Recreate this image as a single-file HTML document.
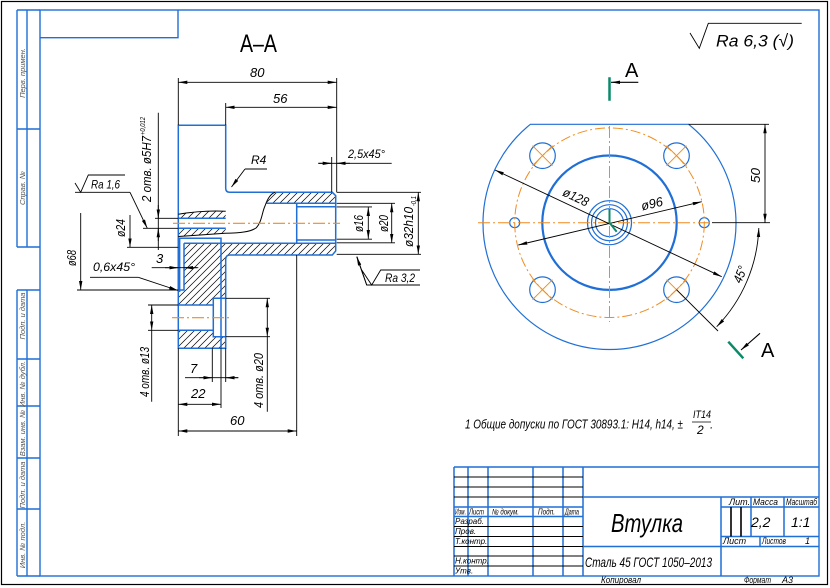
<!DOCTYPE html>
<html><head><meta charset="utf-8"><style>
html,body{margin:0;padding:0;background:#fff;}
svg{display:block;}
text{font-family:"Liberation Sans",sans-serif;font-style:italic;fill:#000;}
</style></head><body>
<svg width="830" height="588" viewBox="0 0 830 588" xmlns="http://www.w3.org/2000/svg">
<defs>
<marker id="ar" markerUnits="userSpaceOnUse" markerWidth="9" markerHeight="4" refX="9" refY="2" orient="auto-start-reverse" viewBox="0 0 9 4"><path d="M0,0.3 L9,2 L0,3.7z" fill="#000"/></marker>
<pattern id="h" patternUnits="userSpaceOnUse" width="7" height="7"><path d="M-1,8 L8,-1 M-1,1 L1,-1 M6,8 L8,6" stroke="#000" stroke-width="0.7"/></pattern>
</defs>
<rect width="830" height="588" fill="#fff"/>
<rect x="1.5" y="1.5" width="826" height="583" fill="none" stroke="#000" stroke-width="1.2"/>

<!-- frame and left strip -->
<g stroke="#1f6fd6" stroke-width="1.4" fill="none">
<rect x="40" y="10" width="779" height="566"/>
<path d="M17,10 V247 M27,10 V247 M17,10 H40 M17,129 H40 M17,247 H40"/>
<path d="M17,290 V576 M27,290 V576 M17,290 H40 M17,359 H40 M17,406 H40 M17,458 H40 M17,509 H40 M17,576 H40"/>
<path d="M40,37.7 H178 V10"/>
</g>
<g font-size="7.5" text-anchor="middle">
<text transform="translate(25,73) rotate(-90)" style="fill:#555">Перв. примен.</text>
<text transform="translate(25,188) rotate(-90)" style="fill:#555">Справ. №</text>
<text transform="translate(25,316) rotate(-90)" style="fill:#555">Подп. и дата</text>
<text transform="translate(25,384) rotate(-90)" style="fill:#555">Инв. № дубл.</text>
<text transform="translate(25,433) rotate(-90)" style="fill:#555">Взам. инв. №</text>
<text transform="translate(25,485) rotate(-90)" style="fill:#555">Подп. и дата</text>
<text transform="translate(25,545) rotate(-90)" style="fill:#555">Инв. № подл.</text>
</g>

<!-- SECTION A-A -->
<text x="240" y="52" font-size="25" style="font-style:normal" textLength="37" lengthAdjust="spacingAndGlyphs">А–А</text>

<g fill="url(#h)" stroke="none">
<path d="M274,192.3 L332.3,192.3 L335.7,195.7 L335.7,203.3 L266.5,203.3 C268,200 270,195 274,192.3Z"/>
<path d="M178.3,214.3 C192,212 210,210.5 225.7,211.3 L225.7,218.3 L178.3,218.3Z"/>
<path d="M178.3,228.3 L225.7,228.3 L225.7,233.3 C210,234 195,235.5 178.3,236.5Z"/>
<path d="M184,243.3 L335.7,243.3 L335.7,251 L332.3,255 L230,255 Q225.7,255 225.7,259.3 L225.7,348.3 L178.3,348.3 L178.3,290 L184,290Z"/>
</g>
<g fill="#fff"><rect x="178.3" y="305" width="35" height="25.3"/><rect x="213.3" y="298.3" width="12.4" height="38.4"/></g>

<g stroke="#1f6fd6" stroke-width="1.5" fill="none">
<path d="M178.3,125.3 H225.7 V188.3 Q225.7,192.3 229.7,192.3 H332.3 L335.7,195.7 V251 L332.3,255 H230 Q225.7,255 225.7,259.3 V348.3 H178.3 Z"/>
<path d="M178.3,218.3 H225.7 M178.3,228.3 H225.7"/>
<path d="M266.5,203.3 H335.7 M296.7,206.7 H335.7 M296.7,240 H335.7 M296.7,203.3 V243.3 M184,243.3 H335.7 M184,243.3 V290 H178.3 M178.3,238.3 H221 V348.3"/>
<path d="M178.3,305 H213.3 V298.3 H225.7 M178.3,330.3 H213.3 V336.7 H225.7 M213.3,298.3 V336.7"/>
</g>
<path d="M179,238 V292" stroke="#1f6fd6" stroke-width="2.8"/>

<!-- break lines -->
<g stroke="#000" stroke-width="1" fill="none">
<path d="M178.3,214.3 C192,212 210,210.5 225.7,211.3"/>
<path d="M178.3,236.5 C195,235.5 215,234 225,233.3 C240,233 250,232 256,228 C262,222 262,212 265,206 C267,200 270,194 275,192.3"/>
</g>

<!-- axes -->
<g stroke="#f08c1e" stroke-width="1.1" stroke-dasharray="12 3 2 3" fill="none">
<path d="M173,223.3 H340"/>
<path d="M172,317.7 H230"/>
</g>

<!-- extension & thin lines -->
<g stroke="#000" stroke-width="0.9" fill="none">
<path d="M178.3,78 V125.3 M336.7,78 V192.3 M225.7,103 V125.3"/>
<path d="M331.7,157 V192.3 M318.3,163.3 H391.7"/>
<path d="M336.7,192.3 H421 M336.7,254.3 H421 M336.7,206.9 H372 M336.7,239.2 H372 M336.7,203.3 H395 M336.7,242.8 H395"/>
<path d="M357,256.7 L366.7,285 H420 M361.7,270 L371.7,285 L380.7,270 H420"/>
<path d="M75,192.3 H130 M75,183 L80.7,192.3 L88.3,175 H125"/>
<path d="M158.3,112.7 V250 M155,218.3 H178.3 M143,228.3 H178.3"/>
<path d="M127,247.3 H178.3 M77,290 H178.3 M90,277.3 H138.3 M151.7,267.7 H198.3"/>
<path d="M148,305 H178.3 M148,330.3 H178.3 M151.7,330.3 V401.7 M225.7,298.3 H270 M225.7,336.7 H270 M267.3,336.7 V411.7"/>
<path d="M178.3,348.3 V436 M212.3,348.3 V382 M225.7,348.3 V382 M221,348.3 V408 M296.7,255 V436 M185,377.7 H238.3 M245,169 H267"/>
</g>
<g stroke="#000" stroke-width="0.9" fill="none" marker-end="url(#ar)">
<path d="M245,169 L231.5,187"/>
<path d="M130,192.3 L147.3,228.3"/>
<path d="M138.3,277.3 L178,290.5"/>
<path d="M366.7,285 L356.7,256.7"/>
<path d="M130,215 V247.3"/>
<path d="M80.7,213 V290"/>
<path d="M158.3,205 V218.3"/>
<path d="M158.3,241 V228.3"/>
<path d="M165,267.7 H178.3"/>
<path d="M197,267.7 H184"/>
<path d="M199,377.7 H212.3"/>
<path d="M238.3,377.7 H225.7"/>
<path d="M318.3,163.3 H331.7"/>
<path d="M350,163.3 H336.7"/>
</g>
<g stroke="#000" stroke-width="0.9" fill="none" marker-start="url(#ar)" marker-end="url(#ar)">
<path d="M178.3,82.3 H336.7"/>
<path d="M225.7,107.3 H336.7"/>
<path d="M368.3,207 V238.9"/>
<path d="M391.7,203.3 V242.8"/>
<path d="M418.3,192.3 V254.3"/>
<path d="M178.3,404.3 H221"/>
<path d="M178.3,431 H296.7"/>
<path d="M151.7,305 V330.3"/>
<path d="M267.3,298.3 V336.7"/>
</g>

<!-- section dims text -->
<g font-size="13">
<text x="250" y="77">80</text>
<text x="273" y="103">56</text>
<text x="251" y="164" font-size="12">R4</text>
<text x="348" y="158" font-size="12" textLength="37" lengthAdjust="spacingAndGlyphs">2,5x45°</text>
<text x="91" y="188.5" font-size="12" textLength="29" lengthAdjust="spacingAndGlyphs">Ra 1,6</text>
<text x="385" y="282" font-size="12" textLength="30" lengthAdjust="spacingAndGlyphs">Ra 3,2</text>
<text x="93" y="271" font-size="12" textLength="42" lengthAdjust="spacingAndGlyphs">0,6x45°</text>
<text x="156" y="263">3</text>
<text x="190" y="373">7</text>
<text x="191" y="398">22</text>
<text x="230" y="425">60</text>
<text transform="translate(76,266) rotate(-90)" textLength="16" lengthAdjust="spacingAndGlyphs">ø68</text>
<text transform="translate(125,237) rotate(-90)" textLength="18" lengthAdjust="spacingAndGlyphs">ø24</text>
<text transform="translate(151,202) rotate(-90)" textLength="66" lengthAdjust="spacingAndGlyphs">2 отв. ø5H7</text>
<text transform="translate(145,135) rotate(-90)" font-size="7" textLength="18" lengthAdjust="spacingAndGlyphs">+0,012</text>
<text transform="translate(149,397) rotate(-90)" textLength="50" lengthAdjust="spacingAndGlyphs">4 отв. ø13</text>
<text transform="translate(263,408) rotate(-90)" textLength="55" lengthAdjust="spacingAndGlyphs">4 отв. ø20</text>
<text transform="translate(363,232) rotate(-90)" textLength="17" lengthAdjust="spacingAndGlyphs">ø16</text>
<text transform="translate(388,232) rotate(-90)" textLength="17" lengthAdjust="spacingAndGlyphs">ø20</text>
<text transform="translate(413,247) rotate(-90)" textLength="40" lengthAdjust="spacingAndGlyphs">ø32h10</text>
<text transform="translate(416,206) rotate(-90)" font-size="7" textLength="10" lengthAdjust="spacingAndGlyphs">-0,1</text>
</g>

<!-- RIGHT VIEW -->
<g stroke="#1f6fd6" stroke-width="1.2" fill="none">
<path d="M530.4,124.3 A126.5,126.5 0 1 0 688.6,124.3 Z"/>
<circle cx="609.5" cy="222.7" r="67.2" stroke-width="2.2"/>
<circle cx="542.5" cy="155.7" r="12.8"/>
<circle cx="676.5" cy="155.7" r="12.8"/>
<circle cx="542.5" cy="289.7" r="12.8"/>
<circle cx="676.5" cy="289.7" r="12.8"/>
<circle cx="514.7" cy="222.7" r="5"/>
<circle cx="704.3" cy="222.7" r="5"/>
<circle cx="609.5" cy="222.7" r="22"/>
<circle cx="609.5" cy="222.7" r="18"/>
<circle cx="609.5" cy="222.7" r="14"/>
</g>
<g stroke="#f08c1e" stroke-width="1" fill="none">
<circle cx="609.5" cy="222.7" r="94.8" stroke-dasharray="10 3 2 3"/>
<path d="M478,222.7 H712 M609.5,126 V322" stroke-dasharray="12 3 2 3"/>
<path d="M532.5,145.7 L552.5,165.7 M552.5,145.7 L532.5,165.7 M666.5,145.7 L686.5,165.7 M686.5,145.7 L666.5,165.7 M532.5,279.7 L552.5,299.7 M552.5,279.7 L532.5,299.7 M666.5,279.7 L686.5,299.7 M686.5,279.7 L666.5,299.7"/>
</g>
<g stroke="#000" stroke-width="0.9" fill="none">
<path d="M688.6,124.3 H769 M712,222.7 H770 M676.5,289.7 L718,331"/>
<path d="M690,33 L699.3,48.3 L708.3,23.3 H801.7"/>
</g>
<g stroke="#000" stroke-width="0.9" fill="none" marker-start="url(#ar)" marker-end="url(#ar)">
<path d="M765,124.3 V222.7"/>
<path d="M495,170 L721.7,276.7"/>
<path d="M518.3,245 L701.7,201.7"/>
<path d="M758.8,228 A149.4,149.4 0 0 1 716.7,326.7"/>
</g>
<g stroke="#000" stroke-width="1.1" fill="none" marker-end="url(#ar)">
<path d="M638.3,82.3 H611"/>
<path d="M760,333.3 L741,350"/>
</g>
<g stroke="#0b8a6a" stroke-width="2.5" fill="none">
<path d="M609.5,77.3 V100.7 M728.3,341.7 L743.3,358.3"/>
<path d="M609.5,209 V222.7 L616.7,231.7" stroke-width="2"/>
</g>
<text x="625" y="77" font-size="20" style="font-style:normal">А</text>
<text x="761" y="357" font-size="20" style="font-style:normal">А</text>
<text x="716" y="46.5" font-size="17" textLength="78" lengthAdjust="spacingAndGlyphs">Ra 6,3 (√)</text>
<g font-size="13">
<text transform="translate(760,183) rotate(-90)" textLength="15" lengthAdjust="spacingAndGlyphs">50</text>
<text transform="translate(574,201) rotate(25.2)" text-anchor="middle" textLength="27" lengthAdjust="spacingAndGlyphs">ø128</text>
<text transform="translate(653,208) rotate(-13.3)" text-anchor="middle" textLength="22" lengthAdjust="spacingAndGlyphs">ø96</text>
<text transform="translate(741,284) rotate(-68)" textLength="17" lengthAdjust="spacingAndGlyphs">45°</text>
</g>

<!-- note -->
<text x="465" y="428.5" font-size="12.5" textLength="218" lengthAdjust="spacingAndGlyphs">1 Общие допуски по ГОСТ 30893.1: H14, h14, ±</text>
<text x="693" y="418" font-size="11" textLength="18" lengthAdjust="spacingAndGlyphs">IT14</text>
<line x1="692" y1="422" x2="711" y2="422" stroke="#000" stroke-width="0.8"/>
<text x="697" y="434" font-size="12">2</text>
<text x="710" y="428.5" font-size="12">.</text>

<!-- TITLE BLOCK -->
<g stroke="#1f6fd6" stroke-width="1.5" fill="none">
<path d="M454,467 H819 M454,467 V576 M583,467 V576 M583,497 H819 M721,497 V576 M721,507 H819 M751,497 V536.5 M784,497 V536.5 M721,536.5 H819 M583,546.5 H819 M760,536.5 V546.5"/>
<path d="M468,467 V576 M488,467 V576 M533,467 V576 M563,467 V576"/>
<path d="M454,507 H583 M454,516.5 H583"/>
</g>
<g stroke="#000" stroke-width="0.9">
<path d="M454,477 H583 M454,487 H583 M454,497 H583 M454,526.5 H583 M454,536.5 H583 M454,546.5 H583 M454,556 H583 M454,566 H583"/>
</g>
<path d="M731,507 V536.5 M741,507 V536.5" stroke="#000" stroke-width="1.6"/>
<g font-size="8">
<text x="455" y="514.5" textLength="11" lengthAdjust="spacingAndGlyphs">Изм.</text>
<text x="469" y="514.5" textLength="15" lengthAdjust="spacingAndGlyphs">Лист</text>
<text x="492" y="514.5" textLength="27" lengthAdjust="spacingAndGlyphs">№ докум.</text>
<text x="538" y="514.5" textLength="17" lengthAdjust="spacingAndGlyphs">Подп.</text>
<text x="565" y="514.5" textLength="14" lengthAdjust="spacingAndGlyphs">Дата</text>
<text x="455" y="524">Разраб.</text>
<text x="455" y="534">Пров.</text>
<text x="455" y="544">Т.контр.</text>
<text x="455" y="563.5">Н.контр.</text>
<text x="455" y="573.5">Утв.</text>
<text x="729" y="505" font-size="9">Лит.</text>
<text x="753" y="505" font-size="9" textLength="25" lengthAdjust="spacingAndGlyphs">Масса</text>
<text x="786" y="505" font-size="9" textLength="31" lengthAdjust="spacingAndGlyphs">Масштаб</text>
<text x="723" y="544" font-size="9">Лист</text>
<text x="762" y="544" font-size="9" textLength="24" lengthAdjust="spacingAndGlyphs">Листов</text>
<text x="805" y="544" font-size="9">1</text>
<text x="601" y="583" font-size="9" textLength="40" lengthAdjust="spacingAndGlyphs">Копировал</text>
<text x="744" y="583" font-size="9" textLength="27" lengthAdjust="spacingAndGlyphs">Формат</text>
<text x="782" y="583" font-size="9">А3</text>
</g>
<text x="751" y="527" font-size="14">2,2</text>
<text x="791" y="527" font-size="14">1:1</text>
<text x="611" y="532" font-size="26" textLength="72" lengthAdjust="spacingAndGlyphs">Втулка</text>
<text x="585" y="567" font-size="14" textLength="127" lengthAdjust="spacingAndGlyphs">Сталь 45 ГОСТ 1050–2013</text>
</svg>
</body></html>
